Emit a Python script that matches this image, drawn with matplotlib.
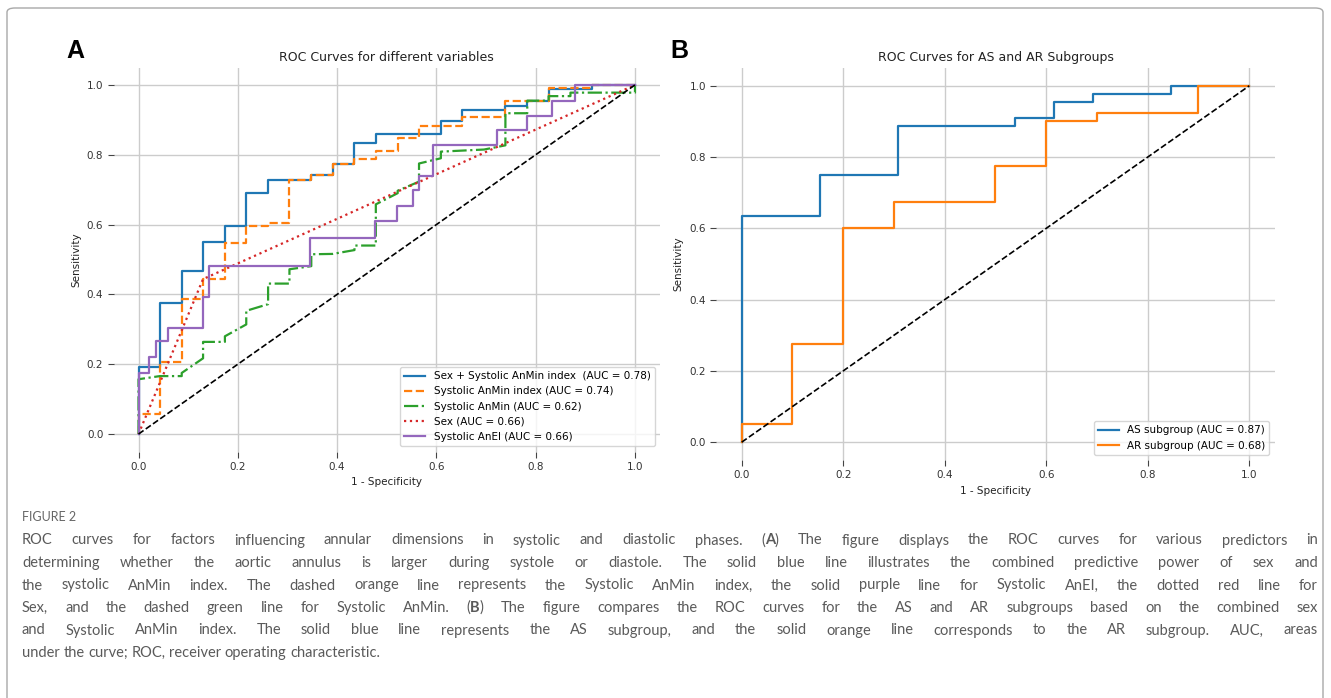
import matplotlib
matplotlib.use("Agg")
import matplotlib.pyplot as plt
from matplotlib.patches import FancyBboxPatch

# ---- panel A: ROC curves for different variables (fpr / tpr)
combo_fpr = [0, 0, 0.043, 0.043, 0.087, 0.087, 0.130, 0.130, 0.174, 0.174, 0.217, 0.217,
             0.261, 0.261, 0.348, 0.348, 0.391, 0.391, 0.435, 0.435, 0.478, 0.478, 0.609, 0.609,
             0.652, 0.652, 0.739, 0.739, 0.783, 0.783, 0.826, 0.826, 0.913, 0.913, 1.0]
combo_tpr = [0, 0.193, 0.193, 0.375, 0.375, 0.468, 0.468, 0.550, 0.550, 0.596, 0.596, 0.691,
             0.691, 0.729, 0.729, 0.741, 0.741, 0.775, 0.775, 0.835, 0.835, 0.860, 0.860, 0.897,
             0.897, 0.928, 0.928, 0.940, 0.940, 0.955, 0.955, 0.988, 0.988, 1.0, 1.0]

anmin_index_fpr = [0, 0, 0.043, 0.043, 0.087, 0.087, 0.130, 0.130, 0.174, 0.174, 0.217, 0.217,
                   0.261, 0.261, 0.304, 0.304, 0.348, 0.348, 0.391, 0.391, 0.435, 0.435, 0.478,
                   0.478, 0.522, 0.522, 0.565, 0.565, 0.652, 0.652, 0.739, 0.739, 0.826, 0.826,
                   0.913, 0.913, 1.0]
anmin_index_tpr = [0, 0.058, 0.058, 0.205, 0.205, 0.386, 0.386, 0.444, 0.444, 0.548, 0.548, 0.596,
                   0.596, 0.605, 0.605, 0.729, 0.729, 0.741, 0.741, 0.775, 0.775, 0.787, 0.787,
                   0.812, 0.812, 0.849, 0.849, 0.883, 0.883, 0.909, 0.909, 0.954, 0.954, 0.990,
                   0.990, 1.0, 1.0]

anmin_fpr = [0, 0, 0.043, 0.087, 0.087, 0.130, 0.130, 0.174, 0.174, 0.217, 0.217, 0.261, 0.261,
             0.304, 0.304, 0.348, 0.348, 0.391, 0.435, 0.435, 0.478, 0.478, 0.522, 0.522, 0.565,
             0.565, 0.609, 0.609, 0.696, 0.739, 0.739, 0.783, 0.783, 0.826, 0.826, 0.870, 0.870,
             1.0, 1.0]
anmin_tpr = [0, 0.157, 0.166, 0.166, 0.175, 0.217, 0.264, 0.264, 0.280, 0.314, 0.353, 0.372, 0.431,
             0.431, 0.472, 0.481, 0.515, 0.516, 0.527, 0.540, 0.540, 0.658, 0.690, 0.697, 0.723,
             0.775, 0.790, 0.809, 0.815, 0.827, 0.919, 0.919, 0.955, 0.955, 0.968, 0.968, 0.978,
             0.978, 1.0]

sex_fpr = [0, 0.130, 1.0]
sex_tpr = [0, 0.444, 1.0]

anei_fpr = [0, 0, 0.022, 0.022, 0.035, 0.035, 0.059, 0.059, 0.130, 0.130, 0.141, 0.141, 0.345,
            0.345, 0.476, 0.476, 0.520, 0.520, 0.553, 0.553, 0.565, 0.565, 0.594, 0.594, 0.723,
            0.723, 0.782, 0.782, 0.832, 0.832, 0.879, 0.879, 1.0]
anei_tpr = [0, 0.174, 0.174, 0.220, 0.220, 0.266, 0.266, 0.304, 0.304, 0.393, 0.393, 0.482, 0.482,
            0.563, 0.563, 0.611, 0.611, 0.654, 0.654, 0.699, 0.699, 0.740, 0.740, 0.828, 0.828,
            0.871, 0.871, 0.912, 0.912, 0.955, 0.955, 1.0, 1.0]

labels_a = ["Sex + Systolic AnMin index  (AUC = 0.78)", "Systolic AnMin index (AUC = 0.74)",
            "Systolic AnMin (AUC = 0.62)", "Sex (AUC = 0.66)", "Systolic AnEI (AUC = 0.66)"]

# ---- panel B: AS / AR subgroups
as_fpr = [0, 0, 0.154, 0.154, 0.308, 0.308, 0.538, 0.538, 0.615, 0.615, 0.692, 0.692,
          0.846, 0.846, 1.0]
as_tpr = [0, 0.636, 0.636, 0.750, 0.750, 0.886, 0.886, 0.909, 0.909, 0.955, 0.955, 0.977,
          0.977, 1.0, 1.0]
ar_fpr = [0, 0, 0.1, 0.1, 0.2, 0.2, 0.3, 0.3, 0.5, 0.5, 0.6, 0.6, 0.7, 0.7, 0.9, 0.9, 1.0]
ar_tpr = [0, 0.05, 0.05, 0.275, 0.275, 0.6, 0.6, 0.675, 0.675, 0.775, 0.775, 0.9, 0.9,
          0.925, 0.925, 1.0, 1.0]
labels_b = ["AS subgroup (AUC = 0.87)", "AR subgroup (AUC = 0.68)"]

caption_head = "FIGURE 2"
caption_lines = [
    "ROC curves for factors influencing annular dimensions in systolic and diastolic phases. (A) The figure displays the ROC curves for various predictors in",
    "determining whether the aortic annulus is larger during systole or diastole. The solid blue line illustrates the combined predictive power of sex and",
    "the systolic AnMin index. The dashed orange line represents the Systolic AnMin index, the solid purple line for Systolic AnEI, the dotted red line for",
    "Sex, and the dashed green line for Systolic AnMin. (B) The figure compares the ROC curves for the AS and AR subgroups based on the combined sex",
    "and Systolic AnMin index. The solid blue line represents the AS subgroup, and the solid orange line corresponds to the AR subgroup. AUC, areas",
    "under the curve; ROC, receiver operating characteristic.",
]

W, H = 1331, 698
fig = plt.figure(figsize=(W / 100, H / 100), dpi=100)

frame = FancyBboxPatch((7 / W, -0.05), 1316 / W, 1 + 0.05 - 8 / H,
                       boxstyle="round,pad=0,rounding_size=0.006",
                       transform=fig.transFigure, facecolor="none",
                       edgecolor="#a8a8a8", linewidth=1.0)
fig.patches.append(frame)


def style_axes(ax, title):
    for s in ax.spines.values():
        s.set_visible(False)
    ax.grid(True, color="#cccccc", linewidth=1.0)
    ax.set_axisbelow(True)
    ax.set_xlim(-0.05, 1.05)
    ax.set_ylim(-0.05, 1.05)
    ticks = [0.0, 0.2, 0.4, 0.6, 0.8, 1.0]
    ax.set_xticks(ticks)
    ax.set_yticks(ticks)
    ax.tick_params(length=4, width=0.8, color="#444444", labelsize=7.5,
                   labelcolor="#333333")
    ax.set_xlabel("1 - Specificity", fontsize=7.5, color="#222222")
    ax.set_ylabel("Sensitivity", fontsize=7.5, color="#222222")
    ax.set_title(title, fontsize=9, color="#222222", pad=5)


ax_a = fig.add_axes([113.7 / W, 1 - 451.5 / H, 546.1 / W, 384 / H])
ax_a.plot(combo_fpr, combo_tpr, color="#1f77b4", lw=1.6, label=labels_a[0])
ax_a.plot(anmin_index_fpr, anmin_index_tpr, color="#ff7f0e", lw=1.6, ls="--", label=labels_a[1])
ax_a.plot(anmin_fpr, anmin_tpr, color="#2ca02c", lw=1.6, ls="-.", label=labels_a[2])
ax_a.plot(sex_fpr, sex_tpr, color="#d62728", lw=1.6, ls=":", label=labels_a[3])
ax_a.plot(anei_fpr, anei_tpr, color="#9467bd", lw=1.6, label=labels_a[4])
ax_a.plot([0, 1], [0, 1], color="black", lw=1.2, ls="--")
style_axes(ax_a, "ROC Curves for different variables")
ax_a.legend(loc="lower right", fontsize=7.5)

ax_b = fig.add_axes([716.3 / W, 1 - 460 / H, 558.3 / W, 392 / H])
ax_b.plot(as_fpr, as_tpr, color="#1f77b4", lw=1.6, label=labels_b[0])
ax_b.plot(ar_fpr, ar_tpr, color="#ff7f0e", lw=1.6, label=labels_b[1])
ax_b.plot([0, 1], [0, 1], color="black", lw=1.2, ls="--")
style_axes(ax_b, "ROC Curves for AS and AR Subgroups")
ax_b.legend(loc="lower right", fontsize=7.5)

fig.text(66 / W, 1 - 51 / H, "A", fontsize=18, fontweight="bold",
         family="Liberation Sans", va="center", ha="left")
fig.text(670 / W, 1 - 51 / H, "B", fontsize=18, fontweight="bold",
         family="Liberation Sans", va="center", ha="left")

# caption, justified like the journal layout; panel letters in bold
cap_font = dict(family="Lato", fontsize=10.5, color="#5a5a5a", va="center", ha="left")
fig.text(22 / W, 1 - 517 / H, caption_head, family="Lato", fontsize=9,
         color="#666666", va="center", ha="left")

renderer = fig.canvas.get_renderer()
left_px, right_px = 22, 1318
line_y = [540.5, 563, 585.5, 608, 630.5, 653]


def word_parts(word):
    if word in ("(A)", "(B)"):
        return [("(", "normal"), (word[1], "bold"), (")", "normal")]
    return [(word, "normal")]


for i, line in enumerate(caption_lines):
    y = 1 - line_y[i] / H
    words = []
    for w in line.split(" "):
        parts = []
        for s, weight in word_parts(w):
            t = fig.text(0, y, s, fontweight=weight, **cap_font)
            parts.append((t, t.get_window_extent(renderer).width))
        words.append(parts)
    widths = [sum(pw for _, pw in parts) for parts in words]
    if i < len(caption_lines) - 1:
        gap = (right_px - left_px - sum(widths)) / (len(words) - 1)
    else:
        gap = cap_font["fontsize"] * 100 / 72 * 0.25
    x = left_px
    for parts, w in zip(words, widths):
        px = x
        for t, pw in parts:
            t.set_x(px / W)
            px += pw
        x += w + gap

fig.savefig("out.png", dpi=100)
